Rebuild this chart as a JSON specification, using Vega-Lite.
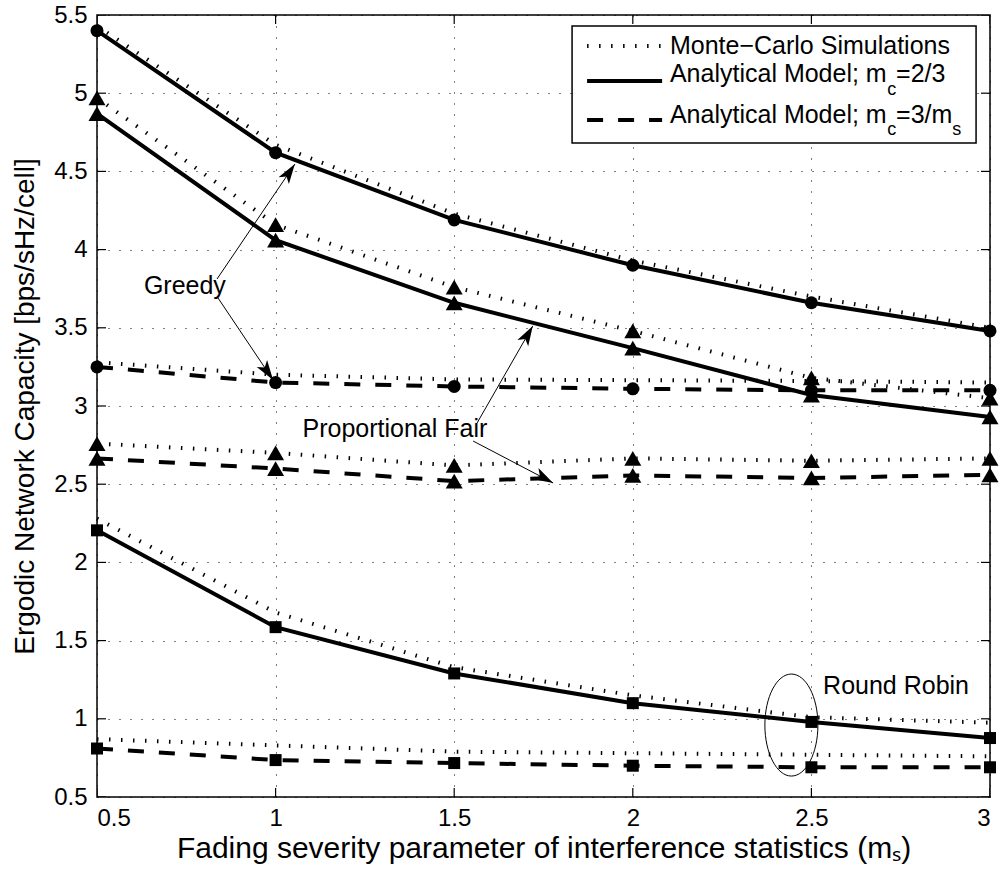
{
  "$schema": "https://vega.github.io/schema/vega-lite/v6.json",
  "width": 893,
  "height": 782,
  "autosize": "none",
  "padding": {"left": 97, "top": 15, "right": 10, "bottom": 76},
  "background": "white",
  "config": {
    "font": "Liberation Sans",
    "view": {"stroke": "black", "strokeWidth": 1.5},
    "axis": {
      "labelFont": "Liberation Sans", "labelFontSize": 24, "labelColor": "black",
      "titleFont": "Liberation Sans", "titleFontSize": 28, "titleFontWeight": "normal", "titleColor": "black",
      "grid": true, "gridColor": "black", "gridDash": [1, 10], "gridWidth": 1, "gridOpacity": 1,
      "domain": false, "ticks": false
    }
  },
  "datasets": {
    "series": [
      {"scheme": "Greedy", "model": "A23", "ms": 0.5, "cap": 5.40},
      {"scheme": "Greedy", "model": "A23", "ms": 1.0, "cap": 4.62},
      {"scheme": "Greedy", "model": "A23", "ms": 1.5, "cap": 4.19},
      {"scheme": "Greedy", "model": "A23", "ms": 2.0, "cap": 3.90},
      {"scheme": "Greedy", "model": "A23", "ms": 2.5, "cap": 3.66},
      {"scheme": "Greedy", "model": "A23", "ms": 3.0, "cap": 3.48},
      {"scheme": "Greedy", "model": "MC1", "ms": 0.5, "cap": 5.43},
      {"scheme": "Greedy", "model": "MC1", "ms": 1.0, "cap": 4.67},
      {"scheme": "Greedy", "model": "MC1", "ms": 1.5, "cap": 4.23},
      {"scheme": "Greedy", "model": "MC1", "ms": 2.0, "cap": 3.93},
      {"scheme": "Greedy", "model": "MC1", "ms": 2.5, "cap": 3.70},
      {"scheme": "Greedy", "model": "MC1", "ms": 3.0, "cap": 3.50},
      {"scheme": "Greedy", "model": "A3ms", "ms": 0.5, "cap": 3.25},
      {"scheme": "Greedy", "model": "A3ms", "ms": 1.0, "cap": 3.15},
      {"scheme": "Greedy", "model": "A3ms", "ms": 1.5, "cap": 3.125},
      {"scheme": "Greedy", "model": "A3ms", "ms": 2.0, "cap": 3.11},
      {"scheme": "Greedy", "model": "A3ms", "ms": 2.5, "cap": 3.10},
      {"scheme": "Greedy", "model": "A3ms", "ms": 3.0, "cap": 3.10},
      {"scheme": "Greedy", "model": "MC2", "ms": 0.5, "cap": 3.28},
      {"scheme": "Greedy", "model": "MC2", "ms": 1.0, "cap": 3.20},
      {"scheme": "Greedy", "model": "MC2", "ms": 1.5, "cap": 3.17},
      {"scheme": "Greedy", "model": "MC2", "ms": 2.0, "cap": 3.165},
      {"scheme": "Greedy", "model": "MC2", "ms": 2.5, "cap": 3.16},
      {"scheme": "Greedy", "model": "MC2", "ms": 3.0, "cap": 3.15},
      {"scheme": "PF", "model": "A23", "ms": 0.5, "cap": 4.87},
      {"scheme": "PF", "model": "A23", "ms": 1.0, "cap": 4.06},
      {"scheme": "PF", "model": "A23", "ms": 1.5, "cap": 3.66},
      {"scheme": "PF", "model": "A23", "ms": 2.0, "cap": 3.37},
      {"scheme": "PF", "model": "A23", "ms": 2.5, "cap": 3.07},
      {"scheme": "PF", "model": "A23", "ms": 3.0, "cap": 2.93},
      {"scheme": "PF", "model": "MC1", "ms": 0.5, "cap": 4.97},
      {"scheme": "PF", "model": "MC1", "ms": 1.0, "cap": 4.16},
      {"scheme": "PF", "model": "MC1", "ms": 1.5, "cap": 3.76},
      {"scheme": "PF", "model": "MC1", "ms": 2.0, "cap": 3.48},
      {"scheme": "PF", "model": "MC1", "ms": 2.5, "cap": 3.18},
      {"scheme": "PF", "model": "MC1", "ms": 3.0, "cap": 3.05},
      {"scheme": "PF", "model": "A3ms", "ms": 0.5, "cap": 2.665},
      {"scheme": "PF", "model": "A3ms", "ms": 1.0, "cap": 2.60},
      {"scheme": "PF", "model": "A3ms", "ms": 1.5, "cap": 2.52},
      {"scheme": "PF", "model": "A3ms", "ms": 2.0, "cap": 2.556},
      {"scheme": "PF", "model": "A3ms", "ms": 2.5, "cap": 2.54},
      {"scheme": "PF", "model": "A3ms", "ms": 3.0, "cap": 2.56},
      {"scheme": "PF", "model": "MC2", "ms": 0.5, "cap": 2.76},
      {"scheme": "PF", "model": "MC2", "ms": 1.0, "cap": 2.70},
      {"scheme": "PF", "model": "MC2", "ms": 1.5, "cap": 2.62},
      {"scheme": "PF", "model": "MC2", "ms": 2.0, "cap": 2.665},
      {"scheme": "PF", "model": "MC2", "ms": 2.5, "cap": 2.65},
      {"scheme": "PF", "model": "MC2", "ms": 3.0, "cap": 2.665},
      {"scheme": "RR", "model": "A23", "ms": 0.5, "cap": 2.205},
      {"scheme": "RR", "model": "A23", "ms": 1.0, "cap": 1.586},
      {"scheme": "RR", "model": "A23", "ms": 1.5, "cap": 1.29},
      {"scheme": "RR", "model": "A23", "ms": 2.0, "cap": 1.10},
      {"scheme": "RR", "model": "A23", "ms": 2.5, "cap": 0.98},
      {"scheme": "RR", "model": "A23", "ms": 3.0, "cap": 0.877},
      {"scheme": "RR", "model": "MC1", "ms": 0.5, "cap": 2.28},
      {"scheme": "RR", "model": "MC1", "ms": 1.0, "cap": 1.68},
      {"scheme": "RR", "model": "MC1", "ms": 1.5, "cap": 1.33},
      {"scheme": "RR", "model": "MC1", "ms": 2.0, "cap": 1.15},
      {"scheme": "RR", "model": "MC1", "ms": 2.5, "cap": 1.01},
      {"scheme": "RR", "model": "MC1", "ms": 3.0, "cap": 0.975},
      {"scheme": "RR", "model": "A3ms", "ms": 0.5, "cap": 0.81},
      {"scheme": "RR", "model": "A3ms", "ms": 1.0, "cap": 0.736},
      {"scheme": "RR", "model": "A3ms", "ms": 1.5, "cap": 0.717},
      {"scheme": "RR", "model": "A3ms", "ms": 2.0, "cap": 0.70},
      {"scheme": "RR", "model": "A3ms", "ms": 2.5, "cap": 0.69},
      {"scheme": "RR", "model": "A3ms", "ms": 3.0, "cap": 0.69},
      {"scheme": "RR", "model": "MC2", "ms": 0.5, "cap": 0.87},
      {"scheme": "RR", "model": "MC2", "ms": 1.0, "cap": 0.83},
      {"scheme": "RR", "model": "MC2", "ms": 1.5, "cap": 0.79},
      {"scheme": "RR", "model": "MC2", "ms": 2.0, "cap": 0.78},
      {"scheme": "RR", "model": "MC2", "ms": 2.5, "cap": 0.77},
      {"scheme": "RR", "model": "MC2", "ms": 3.0, "cap": 0.76}
    ],
    "xticks": [
      {"ms": 0.5, "cap": 0.5}, {"ms": 1.0, "cap": 0.5}, {"ms": 1.5, "cap": 0.5}, {"ms": 2.0, "cap": 0.5}, {"ms": 2.5, "cap": 0.5}, {"ms": 3.0, "cap": 0.5},
      {"ms": 0.5, "cap": 5.5}, {"ms": 1.0, "cap": 5.5}, {"ms": 1.5, "cap": 5.5}, {"ms": 2.0, "cap": 5.5}, {"ms": 2.5, "cap": 5.5}, {"ms": 3.0, "cap": 5.5}
    ],
    "yticks": [
      {"ms": 0.5, "cap": 0.5}, {"ms": 0.5, "cap": 1.0}, {"ms": 0.5, "cap": 1.5}, {"ms": 0.5, "cap": 2.0}, {"ms": 0.5, "cap": 2.5}, {"ms": 0.5, "cap": 3.0},
      {"ms": 0.5, "cap": 3.5}, {"ms": 0.5, "cap": 4.0}, {"ms": 0.5, "cap": 4.5}, {"ms": 0.5, "cap": 5.0}, {"ms": 0.5, "cap": 5.5},
      {"ms": 3.0, "cap": 0.5}, {"ms": 3.0, "cap": 1.0}, {"ms": 3.0, "cap": 1.5}, {"ms": 3.0, "cap": 2.0}, {"ms": 3.0, "cap": 2.5}, {"ms": 3.0, "cap": 3.0},
      {"ms": 3.0, "cap": 3.5}, {"ms": 3.0, "cap": 4.0}, {"ms": 3.0, "cap": 4.5}, {"ms": 3.0, "cap": 5.0}, {"ms": 3.0, "cap": 5.5}
    ],
    "arrows": [
      {"id": "G1", "ms": 0.836, "cap": 3.812, "ms2": 1.054, "cap2": 4.547},
      {"id": "G2", "ms": 0.839, "cap": 3.690, "ms2": 0.993, "cap2": 3.166},
      {"id": "P1", "ms": 1.564, "cap": 2.891, "ms2": 1.720, "cap2": 3.512},
      {"id": "P2", "ms": 1.553, "cap": 2.776, "ms2": 1.777, "cap2": 2.508}
    ],
    "notes": [
      {"label": "Greedy", "ms": 0.746, "cap": 3.767},
      {"label": "Proportional Fair", "ms": 1.334, "cap": 2.853},
      {"label": "Round Robin", "ms": 2.737, "cap": 1.21}
    ],
    "ellipse": [{"ms": 2.444, "cap": 0.96}],
    "legendBox": [{"ms": 1.830, "ms2": 2.961, "cap": 5.430, "cap2": 4.682}],
    "legendLines": [
      {"kind": "MC", "ms": 1.872, "ms2": 2.082, "cap": 5.302},
      {"kind": "A23", "ms": 1.872, "ms2": 2.082, "cap": 5.078},
      {"kind": "A3ms", "ms": 1.872, "ms2": 2.082, "cap": 4.829}
    ],
    "legendText": [
      {"kind": "main", "txt": "Monte\u2212Carlo Simulations", "ms": 2.104, "cap": 5.302},
      {"kind": "main", "txt": "Analytical Model; m", "ms": 2.104, "cap": 5.123},
      {"kind": "sub", "txt": "c", "ms": 2.712, "cap": 5.02},
      {"kind": "main", "txt": "=2/3", "ms": 2.737, "cap": 5.123},
      {"kind": "main", "txt": "Analytical Model; m", "ms": 2.104, "cap": 4.861},
      {"kind": "sub", "txt": "c", "ms": 2.712, "cap": 4.763},
      {"kind": "main", "txt": "=3/m", "ms": 2.737, "cap": 4.861},
      {"kind": "sub", "txt": "s", "ms": 2.894, "cap": 4.763}
    ]
  },
  "encoding": {
    "x": {
      "field": "ms", "type": "quantitative",
      "scale": {"domain": [0.5, 3], "nice": false, "zero": false},
      "axis": {
        "values": [0.5, 1, 1.5, 2, 2.5, 3], "format": "~g", "labelPadding": 9,
        "title": "Fading severity parameter of interference statistics (m\u209b)", "titlePadding": 3, "titleFontSize": 30
      }
    },
    "y": {
      "field": "cap", "type": "quantitative",
      "scale": {"domain": [0.5, 5.5], "nice": false, "zero": false},
      "axis": {
        "values": [0.5, 1, 1.5, 2, 2.5, 3, 3.5, 4, 4.5, 5, 5.5], "format": "~g", "labelPadding": 10,
        "title": "Ergodic Network Capacity [bps/sHz/cell]", "titlePadding": 14
      }
    }
  },
  "layer": [
    {
      "data": {"name": "series"},
      "transform": [{"filter": "datum.model == 'MC1' || datum.model == 'MC2'"}, {"calculate": "datum.scheme + datum.model", "as": "curve"}],
      "mark": {"type": "line", "color": "black", "strokeWidth": 4, "strokeDash": [1.5, 10.5]},
      "encoding": {"detail": {"field": "curve"}}
    },
    {
      "data": {"name": "series"},
      "transform": [{"filter": "datum.model == 'A23'"}],
      "mark": {"type": "line", "color": "black", "strokeWidth": 4},
      "encoding": {"detail": {"field": "scheme"}}
    },
    {
      "data": {"name": "series"},
      "transform": [{"filter": "datum.model == 'A3ms'"}],
      "mark": {"type": "line", "color": "black", "strokeWidth": 4, "strokeDash": [16, 15]},
      "encoding": {"detail": {"field": "scheme"}}
    },
    {
      "data": {"name": "series"},
      "transform": [{"filter": "datum.scheme == 'Greedy' && (datum.model == 'A23' || datum.model == 'A3ms')"}],
      "mark": {"type": "point", "shape": "circle", "filled": true, "color": "black", "size": 169, "opacity": 1}
    },
    {
      "data": {"name": "series"},
      "transform": [{"filter": "datum.scheme == 'PF'"}],
      "mark": {"type": "point", "shape": "triangle-up", "filled": true, "color": "black", "size": 289, "opacity": 1}
    },
    {
      "data": {"name": "series"},
      "transform": [{"filter": "datum.scheme == 'RR' && (datum.model == 'A23' || datum.model == 'A3ms')"}],
      "mark": {"type": "point", "shape": "square", "filled": true, "color": "black", "size": 144, "opacity": 1}
    },
    {
      "data": {"name": "xticks"},
      "mark": {"type": "point", "shape": "stroke", "filled": false, "stroke": "black", "strokeWidth": 1.2, "size": 324, "angle": 90, "clip": true, "opacity": 1}
    },
    {
      "data": {"name": "yticks"},
      "mark": {"type": "point", "shape": "stroke", "filled": false, "stroke": "black", "strokeWidth": 1.2, "size": 324, "angle": 0, "clip": true, "opacity": 1}
    },
    {
      "data": {"name": "arrows"},
      "mark": {"type": "rule", "color": "black", "strokeWidth": 1},
      "encoding": {"x2": {"field": "ms2"}, "y2": {"field": "cap2"}}
    },
    {
      "data": {"name": "arrows"},
      "transform": [{"filter": "datum.id == 'G1'"}],
      "mark": {"type": "point", "shape": "M0,0 L0.5,1.6 L0,1.2 L-0.5,1.6 Z", "filled": true, "color": "black", "size": 625, "angle": 34, "opacity": 1},
      "encoding": {"x": {"field": "ms2", "type": "quantitative"}, "y": {"field": "cap2", "type": "quantitative"}}
    },
    {
      "data": {"name": "arrows"},
      "transform": [{"filter": "datum.id == 'G2'"}],
      "mark": {"type": "point", "shape": "M0,0 L0.5,1.6 L0,1.2 L-0.5,1.6 Z", "filled": true, "color": "black", "size": 625, "angle": 146, "opacity": 1},
      "encoding": {"x": {"field": "ms2", "type": "quantitative"}, "y": {"field": "cap2", "type": "quantitative"}}
    },
    {
      "data": {"name": "arrows"},
      "transform": [{"filter": "datum.id == 'P1'"}],
      "mark": {"type": "point", "shape": "M0,0 L0.5,1.6 L0,1.2 L-0.5,1.6 Z", "filled": true, "color": "black", "size": 625, "angle": 30, "opacity": 1},
      "encoding": {"x": {"field": "ms2", "type": "quantitative"}, "y": {"field": "cap2", "type": "quantitative"}}
    },
    {
      "data": {"name": "arrows"},
      "transform": [{"filter": "datum.id == 'P2'"}],
      "mark": {"type": "point", "shape": "M0,0 L0.5,1.6 L0,1.2 L-0.5,1.6 Z", "filled": true, "color": "black", "size": 625, "angle": 118, "opacity": 1},
      "encoding": {"x": {"field": "ms2", "type": "quantitative"}, "y": {"field": "cap2", "type": "quantitative"}}
    },
    {
      "data": {"name": "ellipse"},
      "mark": {"type": "point", "shape": "M0,-1 C0.287,-1 0.52,-0.552 0.52,0 C0.52,0.552 0.287,1 0,1 C-0.287,1 -0.52,0.552 -0.52,0 C-0.52,-0.552 -0.287,-1 0,-1 Z", "filled": false, "stroke": "black", "strokeWidth": 1, "size": 10404, "opacity": 1}
    },
    {
      "data": {"name": "notes"},
      "mark": {"type": "text", "font": "Liberation Sans", "fontSize": 25, "color": "black", "align": "center", "baseline": "middle"},
      "encoding": {"text": {"field": "label"}}
    },
    {
      "data": {"name": "legendBox"},
      "mark": {"type": "rect", "fill": "white", "stroke": "black", "strokeWidth": 1.5},
      "encoding": {"x2": {"field": "ms2"}, "y2": {"field": "cap2"}}
    },
    {
      "data": {"name": "legendLines"},
      "transform": [{"filter": "datum.kind == 'MC'"}],
      "mark": {"type": "rule", "color": "black", "strokeWidth": 4, "strokeDash": [1.5, 10.5]},
      "encoding": {"x2": {"field": "ms2"}}
    },
    {
      "data": {"name": "legendLines"},
      "transform": [{"filter": "datum.kind == 'A23'"}],
      "mark": {"type": "rule", "color": "black", "strokeWidth": 4},
      "encoding": {"x2": {"field": "ms2"}}
    },
    {
      "data": {"name": "legendLines"},
      "transform": [{"filter": "datum.kind == 'A3ms'"}],
      "mark": {"type": "rule", "color": "black", "strokeWidth": 4, "strokeDash": [16, 15]},
      "encoding": {"x2": {"field": "ms2"}}
    },
    {
      "data": {"name": "legendText"},
      "transform": [{"filter": "datum.kind == 'main'"}],
      "mark": {"type": "text", "font": "Liberation Sans", "fontSize": 25, "color": "black", "align": "left", "baseline": "middle"},
      "encoding": {"text": {"field": "txt"}}
    },
    {
      "data": {"name": "legendText"},
      "transform": [{"filter": "datum.kind == 'sub'"}],
      "mark": {"type": "text", "font": "Liberation Sans", "fontSize": 18, "color": "black", "align": "left", "baseline": "middle"},
      "encoding": {"text": {"field": "txt"}}
    }
  ]
}
